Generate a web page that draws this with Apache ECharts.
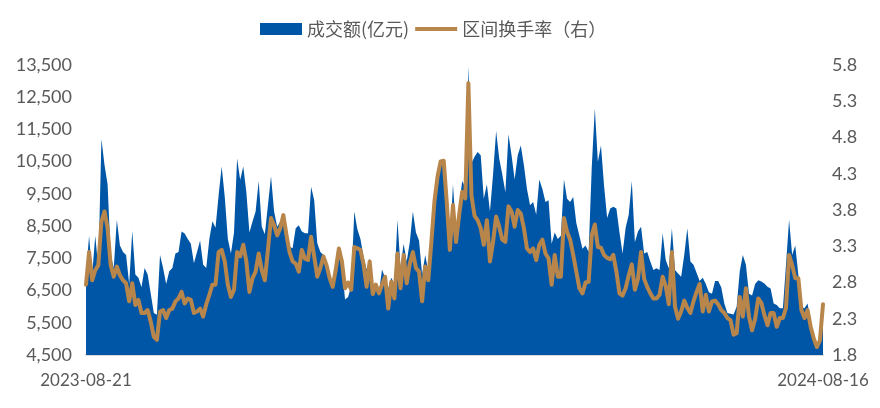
<!DOCTYPE html>
<html>
<head>
<meta charset="utf-8">
<script src="https://cdn.jsdelivr.net/npm/echarts@6/dist/echarts.min.js"></script>
<style>
html,body{margin:0;padding:0;background:#fff;}
#c{width:880px;height:408px;}
</style>
</head>
<body>
<div id="c"></div>
<script>
const startDate = '2023-08-21';
const endDate = '2024-08-16';
const seriesNames = ['成交额(亿元)', '区间换手率（右）'];
const leftTicks = [4500, 13500, 1000];
const rightTicks = [1.8, 5.8, 0.5];

const amount = [
7000, 8200, 7000, 8200, 7200, 11200, 10400, 9800, 7600, 7200, 8700, 7900, 7700, 7600, 6700, 8350, 7000, 6900, 6600, 7200,
7000, 6400, 5800, 5750, 7600, 7200, 6700, 7100, 7200, 7650, 7700, 8330, 8270, 8100, 7950, 7350, 7700, 8050, 7300, 7200,
8100, 8650, 8450, 9450, 10350, 9400, 8100, 7650, 8300, 10600, 9930, 10350, 9550, 8300, 8640, 8950, 9900, 8480, 8250, 9150,
10050, 8950, 8480, 8640, 8850, 8250, 7860, 7810, 8430, 8530, 8330, 8280, 8280, 9720, 9300, 7970, 7700, 7600, 7300,
6980, 6600, 7450, 7800, 7290, 6220, 6300, 6650, 8950, 8400, 8100, 7550, 7150, 7500, 6600, 6700, 6450, 7150, 6900, 6560,
6900, 6700, 8700, 7200, 7950, 7400, 8000, 8950, 8300, 8050, 7000, 7600, 7100, 8000, 9100, 9700, 10400, 10500, 9600,
7900, 9800, 8350, 9150, 9900, 9700, 13450, 10450, 10650, 10800, 10700, 9350, 9800, 8950, 10100, 11450, 10600, 10100, 9550, 11350,
10700, 9950, 10700, 11000, 10400, 9650, 9150, 9250, 8850, 9950, 9650, 9250, 9300, 7950, 8300, 8100, 8200, 9950, 9350,
9250, 9400, 8600, 8200, 7800, 7900, 7700, 10300, 12150, 10500, 11000, 9750, 8750, 9050, 9100, 9050, 8300, 7650, 8450, 8850,
9900, 8000, 8330, 8480, 7650, 7700, 7400, 7140, 7190, 7140, 8280, 7450, 7190, 8430, 7140, 7030, 6930, 7600, 8430,
7400, 7300, 7050, 6800, 6900, 6700, 6450, 6400, 6800, 6800, 6600, 6100, 5800, 5780, 5760, 6000, 7100, 7600, 7300, 6400,
6350, 6700, 6820, 6780, 6720, 6620, 6560, 6100, 6050, 5950, 5950, 7300, 8700, 7600, 7900, 7000, 6000, 5950, 6100, 5500,
5000, 4750, 4900, 6050
];

const turnover = [
2.77, 3.22, 2.83, 2.97, 3.04, 3.64, 3.78, 3.55, 3.04, 2.88, 3.02, 2.90, 2.83, 2.79, 2.54, 2.79, 2.49, 2.56, 2.38, 2.38,
2.42, 2.26, 2.05, 2.01, 2.40, 2.42, 2.31, 2.42, 2.44, 2.54, 2.58, 2.67, 2.51, 2.58, 2.56, 2.38, 2.40, 2.44, 2.33, 2.50,
2.63, 2.77, 2.77, 3.22, 3.25, 3.09, 2.77, 2.60, 2.70, 3.22, 3.16, 3.32, 3.09, 2.67, 2.86, 2.95, 3.20, 2.97, 2.83, 3.25,
3.69, 3.59, 3.45, 3.55, 3.73, 3.46, 3.22, 3.09, 3.06, 2.95, 3.25, 3.13, 3.11, 3.43, 3.16, 2.88, 3.00, 3.16, 3.04,
2.86, 2.74, 2.98, 3.27, 3.09, 2.72, 2.80, 2.70, 3.29, 3.27, 3.25, 3.05, 2.74, 3.09, 2.64, 2.77, 2.65, 2.77, 2.88, 2.44,
2.81, 2.58, 3.20, 2.72, 3.18, 2.79, 3.06, 3.22, 3.00, 2.95, 2.54, 3.02, 2.83, 3.36, 3.92, 4.26, 4.47, 4.48, 3.90,
3.25, 3.87, 3.36, 3.73, 4.05, 3.96, 5.55, 4.00, 3.72, 3.66, 3.55, 3.32, 3.66, 3.09, 3.36, 3.71, 3.57, 3.39, 3.36, 3.85,
3.78, 3.57, 3.80, 3.75, 3.55, 3.27, 3.22, 3.27, 3.11, 3.32, 3.39, 3.20, 3.13, 2.77, 3.18, 2.88, 2.88, 3.69, 3.50,
3.39, 3.18, 2.95, 2.72, 2.65, 2.80, 2.81, 3.45, 3.60, 3.29, 3.28, 3.18, 3.14, 3.12, 3.18, 2.95, 2.65, 2.62, 2.72, 2.90,
3.05, 2.70, 2.85, 3.22, 2.85, 2.74, 2.65, 2.58, 2.58, 2.63, 2.88, 2.75, 2.50, 3.22, 2.47, 2.30, 2.40, 2.55, 2.45,
2.38, 2.54, 2.67, 2.78, 2.40, 2.63, 2.40, 2.54, 2.55, 2.50, 2.42, 2.38, 2.31, 2.28, 2.08, 2.10, 2.60, 2.33, 2.72, 2.33,
2.14, 2.30, 2.58, 2.52, 2.35, 2.21, 2.38, 2.38, 2.19, 2.31, 2.31, 2.45, 3.18, 3.04, 2.86, 2.86, 2.42, 2.31, 2.42, 2.19,
2.03, 1.91, 2.00, 2.50
];

const N = amount.length;
const categories = amount.map((_, i) => i);
const BLUE = '#0056A6';
const GOLD = '#B8864B';
const TXT = '#595959';
const FONT = 'Lato, "DejaVu Sans", sans-serif';

const chart = echarts.init(document.getElementById('c'));
chart.setOption({
  animation: false,
  backgroundColor: '#fff',
  grid: { left: 86, right: 57, top: 65, bottom: 53, containLabel: false },
  legend: {
    left: 255, top: 15, padding: 5,
    itemWidth: 42, itemHeight: 12, itemGap: 6,
    textStyle: { fontSize: 18, color: TXT, fontFamily: '"Noto Sans CJK SC", sans-serif' },
    itemStyle: { borderWidth: 0 },
    data: [
      { name: seriesNames[0], icon: 'rect', itemStyle: { color: BLUE, borderWidth: 0 } },
      { name: seriesNames[1], icon: 'path://M0,0H42V4H0Z', itemStyle: { color: GOLD, borderWidth: 0 } }
    ]
  },
  xAxis: {
    type: 'category',
    data: categories,
    boundaryGap: false,
    axisLine: { lineStyle: { color: '#d9d9d9', width: 2 } },
    axisTick: { show: false },
    splitLine: { show: false },
    axisLabel: {
      interval: (idx) => idx === 0 || idx === N - 1,
      formatter: (v, idx) => (idx === 0 ? startDate : endDate),
      color: TXT, fontSize: 17, fontFamily: FONT, margin: 17
    }
  },
  yAxis: [
    {
      type: 'value', min: leftTicks[0], max: leftTicks[1], interval: leftTicks[2],
      axisLine: { show: false }, axisTick: { show: false }, splitLine: { show: false },
      axisLabel: { color: TXT, fontSize: 18, fontFamily: FONT, margin: 14,
        formatter: (v) => v.toLocaleString('en-US') }
    },
    {
      type: 'value', min: rightTicks[0], max: rightTicks[1], interval: rightTicks[2], position: 'right',
      axisLine: { show: false }, axisTick: { show: false }, splitLine: { show: false },
      axisLabel: { color: TXT, fontSize: 18, fontFamily: FONT, margin: 9,
        formatter: (v) => v.toFixed(1) }
    }
  ],
  series: [
    {
      name: seriesNames[0], type: 'line', data: amount, yAxisIndex: 0,
      symbol: 'none', lineStyle: { width: 0 }, itemStyle: { color: BLUE },
      areaStyle: { color: BLUE, opacity: 1 }, clip: false
    },
    {
      name: seriesNames[1], type: 'line', data: turnover, yAxisIndex: 1,
      symbol: 'none', lineStyle: { width: 4, color: GOLD, join: 'round', cap: 'round' },
      itemStyle: { color: GOLD }
    }
  ]
});
</script>
</body>
</html>
